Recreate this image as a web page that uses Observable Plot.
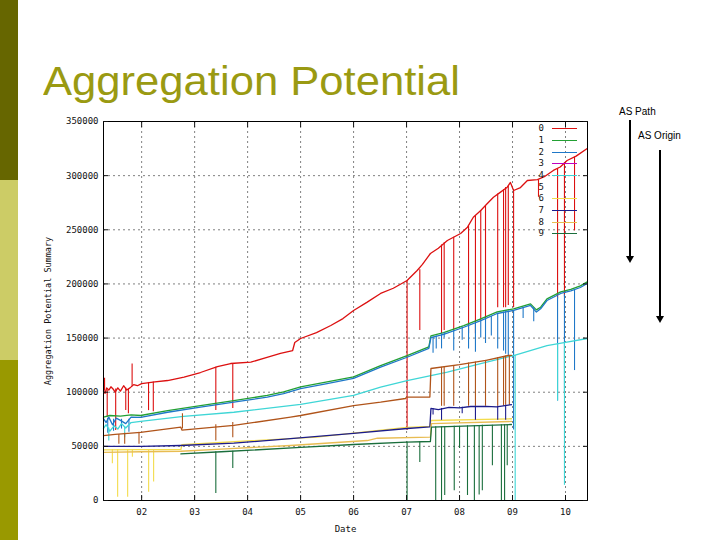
<!DOCTYPE html>
<html><head><meta charset="utf-8">
<script src="https://cdn.jsdelivr.net/npm/d3@7"></script>
<script src="https://cdn.jsdelivr.net/npm/@observablehq/plot@0.6"></script>
<style>
body{margin:0;background:#fff;}
#page{position:relative;width:720px;height:540px;overflow:hidden;background:#fff;font-family:"Liberation Sans",Arial,sans-serif;}
#chart{position:absolute;left:0;top:0;}
.strip{position:absolute;left:0;width:18px;}
#title{position:absolute;left:43px;top:61px;font-size:40px;line-height:40px;color:#9a9a12;white-space:nowrap;transform:scaleX(1.09);transform-origin:left top;}
.ann{position:absolute;font-size:10px;line-height:10px;color:#000;white-space:nowrap;}
.arrow{position:absolute;width:2px;background:#000;}
.head{position:absolute;width:0;height:0;border-left:4px solid transparent;border-right:4px solid transparent;border-top:7px solid #000;}
.lg{position:absolute;font-family:"DejaVu Sans Mono",monospace;font-size:9px;line-height:9px;color:#111;}
.ll{position:absolute;height:1px;width:25px;}
</style></head>
<body><div id="page">
<div id="chart"></div>
<div class="strip" style="top:0;height:180px;background:#666600"></div>
<div class="strip" style="top:180px;height:180px;background:#cccc66"></div>
<div class="strip" style="top:360px;height:180px;background:#999900"></div>
<div id="title">Aggregation Potential</div>
<div class="ann" style="left:619px;top:107px">AS Path</div>
<div class="arrow" style="left:629px;top:120px;height:137px"></div>
<div class="head" style="left:626px;top:256px"></div>
<div class="ann" style="left:638px;top:131px">AS Origin</div>
<div class="arrow" style="left:659px;top:150px;height:167px"></div>
<div class="head" style="left:656px;top:316px"></div>
<div id="legend"></div>
</div>
<script>
// ---- data (values in thousands) ----
const xTicks = [2002, 2003, 2004, 2005, 2006, 2007, 2008, 2009, 2010];
const yTicks = [0, 50000, 100000, 150000, 200000, 250000, 300000, 350000];
const legendLabels = ["0","1","2","3","4","5","6","7","8","9"];
const colors = ["#dc1010","#22a033","#1f78c8","#c000c0","#3fd6d6","#b0541a","#f3dc4c","#1c1c8c","#e8bc52","#1a6e3c"];
const legendShown = [true,true,true,true,true,false,true,true,true,true];

const x0 = [2001.28,2001.31,2001.34,2001.38,2001.42,2001.46,2001.5,2001.55,2001.6,2001.66,2001.72,2001.78,2001.85,2001.92,2002.0,2002.25,2002.49,2002.8,2003.11,2003.43,2003.68,2004.06,2004.35,2004.62,2004.85,2004.89,2005.0,2005.3,2005.57,2005.8,2006.0,2006.25,2006.51,2006.75,2007.01,2007.2,2007.3,2007.45,2007.6,2007.77,2008.02,2008.15,2008.26,2008.4,2008.52,2008.64,2008.78,2008.9,2008.96,2009.02,2009.15,2009.28,2009.47,2009.6,2009.77,2009.9,2010.03,2010.2,2010.41];
const v0 = [101,99,104,102,105,103,100,104,101,106,102,104,107,106,108,109.5,110.8,114,118.2,123.7,126.5,127.7,132,135.8,138.5,145.9,149.6,155,161.6,168,175.5,183,191.2,196,203.2,212.4,218,228.1,233,240.1,246.6,252.4,261.6,267.8,274,280.1,285,289.3,293.7,286.3,289,295.5,296.4,299,304.8,308,314,318,325.1];
const s0 = [[2001.30,101,113],[2001.35,102,77],[2001.51,103,64.6],[2001.7,104,83],[2001.75,103,80],[2001.82,105,126],[2002.13,109,83],[2002.22,109.5,82],[2003.40,123,83],[2003.72,126.5,85],[2007.01,203,64.6],[2007.25,213,157],[2007.66,236,154],[2007.71,238,157],[2007.89,243,157],[2008.17,253,154],[2008.30,263,154],[2008.40,267.8,166],[2008.49,272,166],[2008.72,283,178],[2008.83,287,178],[2008.87,289,178],[2008.92,290,180],[2009.02,286,178],[2009.49,296,280],[2009.85,306,186],[2009.98,312,188],[2010.17,317,249]];

const x1 = [2001.28,2001.4,2001.6,2001.8,2001.98,2002.49,2003.11,2003.74,2004.37,2004.68,2005.0,2005.5,2006.0,2006.51,2007.01,2007.42,2007.46,2007.7,2008.08,2008.4,2008.71,2009.02,2009.34,2009.45,2009.53,2009.65,2009.91,2010.1,2010.28,2010.41];
const v1 = [77,78.5,78,79,78.5,83,87.7,92.3,97,100.3,105,109.5,114.2,124.6,133.8,141.9,152,155,161.5,167.7,174.2,177,181.6,176,178.5,186.2,192.7,195,198.2,201.9];
const s1 = [];

const x2 = [2001.28,2001.33,2001.38,2001.45,2001.52,2001.6,2001.7,2001.8,2001.98,2002.49,2003.11,2003.74,2004.37,2004.68,2005.0,2005.5,2006.0,2006.51,2007.01,2007.42,2007.46,2007.7,2008.08,2008.4,2008.71,2009.02,2009.34,2009.45,2009.53,2009.65,2009.91,2010.1,2010.28,2010.41];
const v2 = [75.5,72,77,70,76,74,71,77,76.7,81.5,86.2,90.8,95.4,98.8,103.4,108,112.7,123.1,132.3,140.4,150.5,153.5,160,166.2,172.7,175.5,180.1,174,177,184.7,191.2,193.5,196.7,200.4];
const s2 = [[2001.36,76,62],[2001.47,75,64],[2001.62,75,66],[2001.76,75,63],[2007.5,151,136],[2007.56,152,140],[2007.66,154,140],[2007.71,155,150],[2007.89,157,138],[2008.05,160,148],[2008.17,162,140],[2008.3,164,137],[2008.4,166,150],[2008.49,168,145],[2008.6,170,152],[2008.72,173,140],[2008.83,174,138],[2008.87,175,135],[2008.92,175,133],[2009.02,175,65],[2009.2,178,168],[2009.4,178,165],[2009.85,188,92],[2009.98,190,100],[2010.17,194,120]];

const x4 = [2001.28,2001.33,2001.4,2001.48,2001.55,2001.62,2001.7,2001.8,2001.98,2002.79,2003.74,2005.0,2006.0,2006.51,2007.01,2007.77,2008.4,2009.02,2009.65,2010.0,2010.41];
const v4 = [66.5,70,64,69,66,71,67,72,73,77.6,81.5,88.7,97,104.6,110.8,118.5,126.5,133.9,143.1,146,149.6];
const s4 = [[2001.38,67,55],[2001.68,68,58],[2009.05,134,0],[2009.85,145,92],[2009.98,146,14]];

const x5 = [2001.28,2001.5,2001.98,2002.74,2002.76,2003.74,2004.81,2005.0,2006.0,2006.51,2006.98,2007.0,2007.44,2007.46,2008.0,2008.5,2008.92,2008.98];
const v5 = [60,61,63,67.7,65,69.3,77,78.5,87.7,90.8,94.2,95.4,95.6,121.9,125.5,129.5,133.9,134];
const s5 = [[2001.57,61,52],[2001.68,62,52],[2001.95,63,52],[2002.77,66,80],[2003.40,70,55],[2003.72,72,58],[2007.66,123,87],[2007.71,123.5,87],[2007.89,124.5,87],[2008.17,127,87],[2008.3,128,87],[2008.49,129.5,87],[2008.72,132,87],[2008.83,133,87],[2008.87,133.5,88],[2008.94,134,88]];

const x6 = [2001.28,2002.0,2002.74,2002.76,2004.0,2005.3,2007.0,2007.44,2007.46,2008.98];
const v6 = [46.8,47,47,51.5,55,58.5,67.5,68.5,73.9,75.5];
const s6 = [[2001.447,47,34],[2001.547,47,3],[2001.736,47,3],[2001.825,47,40],[2002.132,47,7.7],[2002.226,47,17]];

const x7 = [2001.28,2002.0,2002.74,2003.74,2004.81,2006.0,2007.01,2007.44,2007.46,2007.6,2007.8,2008.0,2008.21,2008.5,2008.7,2008.98];
const v7 = [49.9,49.9,50.8,52.9,57.2,61.9,66.5,67.9,85,84,86,85.5,86.8,87,86.5,88.5];
const s7 = [[2007.5,85,79],[2007.66,85,74],[2008.05,86,80],[2008.3,87,74],[2008.72,87,74],[2008.87,88,74]];

const x8 = [2001.28,2002.0,2002.74,2003.5,2004.81,2006.26,2006.45,2007.45,2007.47,2008.98];
const v8 = [44.5,45,45.5,47.5,50.8,55.4,57.5,58.5,71,73];
const s8 = [];

const x9 = [2002.74,2003.5,2005.0,2006.0,2007.0,2007.45,2007.47,2008.98];
const v9 = [43,45,49,51.7,53.9,54.5,67.7,70.2];
const s9 = [[2003.40,45,6.5],[2003.72,45.5,29.5],[2007.01,54,0],[2007.25,54.2,35],[2007.55,68,0],[2007.66,68,0],[2007.72,68,4.6],[2007.9,68.5,9],[2008.0,68.5,48],[2008.15,69,4.6],[2008.28,69,0],[2008.37,69,5],[2008.43,69.5,9],[2008.62,69.5,32],[2008.79,70,0],[2008.85,70,0],[2008.9,70,32]];

// ---- build tables ----
const series = [
  {k:0, xs:x0, vs:v0, sp:s0}, {k:1, xs:x1, vs:v1, sp:s1}, {k:2, xs:x2, vs:v2, sp:s2},
  {k:4, xs:x4, vs:v4, sp:s4}, {k:5, xs:x5, vs:v5, sp:s5}, {k:6, xs:x6, vs:v6, sp:s6},
  {k:7, xs:x7, vs:v7, sp:s7}, {k:8, xs:x8, vs:v8, sp:s8}, {k:9, xs:x9, vs:v9, sp:s9}
];
const K = 1000;
const dataMarks = [];
for (const s of series) {
  const rows = s.xs.map((x, i) => ({x, y: s.vs[i] * K}));
  const spikes = s.sp.map(([x, a, b]) => ({x, y1: a * K, y2: b * K}));
  dataMarks.push(Plot.ruleX(spikes, {x: "x", y1: "y1", y2: "y2", stroke: colors[s.k], strokeWidth: 1.1}));
  dataMarks.push(Plot.line(rows, {x: "x", y: "y", stroke: colors[s.k], strokeWidth: 1.3}));
}

const fmtYear = d => String(d % 100).padStart(2, "0");
const chart = Plot.plot({
  width: 720, height: 540,
  marginTop: 121, marginLeft: 103, marginRight: 133, marginBottom: 40,
  style: {fontFamily: "DejaVu Sans Mono, monospace", fontSize: "9px", background: "transparent", color: "#111"},
  x: {domain: [2001.28, 2010.415], label: null},
  y: {domain: [0, 350000], label: null},
  marks: [
    Plot.gridY({ticks: yTicks.slice(1, -1), stroke: "#808080", strokeOpacity: 1, strokeDasharray: "2,3"}),
    Plot.gridX({ticks: xTicks, stroke: "#808080", strokeOpacity: 1, strokeDasharray: "2,3"}),
    ...dataMarks,
    Plot.frame({stroke: "#000", strokeWidth: 1}),
    Plot.axisY({ticks: yTicks, tickFormat: d3.format("d"), tickSize: -5, tickPadding: 10, label: null}),
    Plot.axisY({anchor: "right", ticks: yTicks, tickFormat: () => "", tickSize: -5, label: null}),
    Plot.axisX({ticks: xTicks, tickFormat: fmtYear, tickSize: -5, tickPadding: 13, label: null}),
    Plot.axisX({anchor: "top", ticks: xTicks, tickFormat: () => "", tickSize: -5, label: null}),
    Plot.text(["Date"], {text: d => d, frameAnchor: "bottom", dy: 31, fontSize: 9}),
    Plot.text(["Aggregation Potential Summary"], {text: d => d, frameAnchor: "left", textAnchor: "middle", rotate: -90, dx: -55, fontSize: 8.5})
  ]
});
document.getElementById("chart").appendChild(chart);

// legend
const lg = document.getElementById("legend");
legendLabels.forEach((lab, i) => {
  const cy = 128.6 + i * 11.7;
  const t = document.createElement("div");
  t.className = "lg"; t.textContent = lab;
  t.style.left = "538.5px"; t.style.top = (cy - 4.5) + "px";
  lg.appendChild(t);
  if (legendShown[i]) {
    const l = document.createElement("div");
    l.className = "ll"; l.style.left = "552px"; l.style.top = (cy - 0.5) + "px";
    l.style.background = colors[i];
    lg.appendChild(l);
  }
});
</script>
</body></html>
